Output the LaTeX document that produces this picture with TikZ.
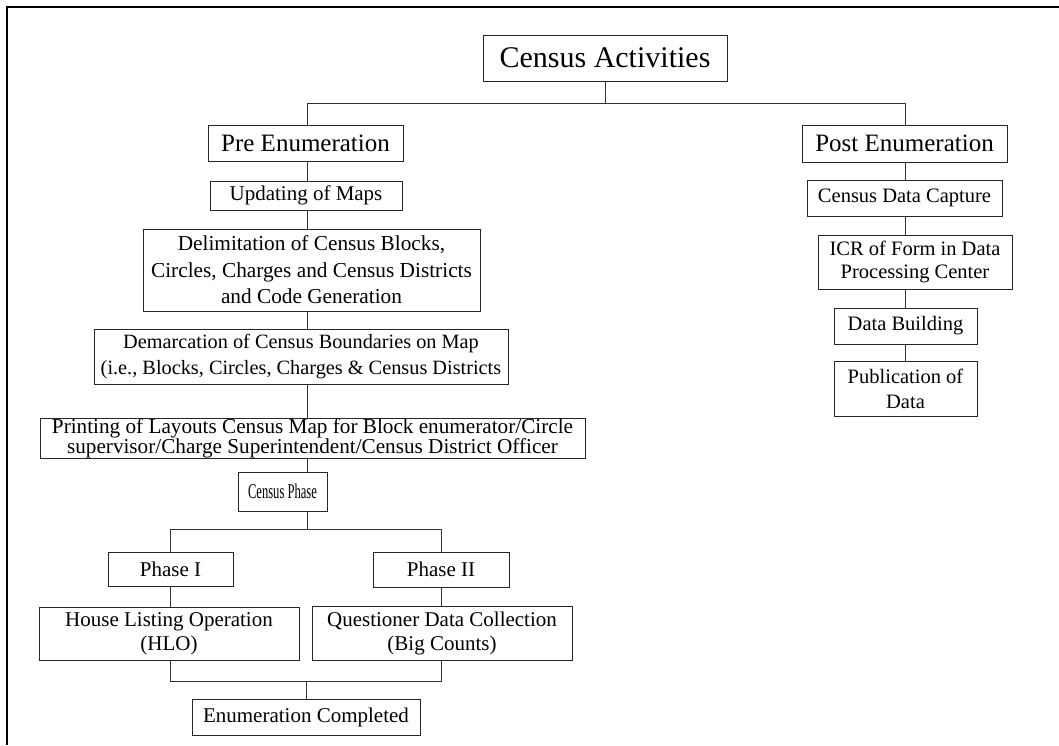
\documentclass[tikz,border=0pt]{standalone}
\usepackage{fontspec}
\usepackage{graphicx}
\setmainfont{Liberation Serif}
\begin{document}
\begin{tikzpicture}[x=1pt,y=-1pt,
  box/.style={draw=black!85, line width=0.8pt, inner sep=0pt, align=center,
    font=\fontsize{21}{26}\selectfont},
  tight/.style={font=\fontsize{21}{24}\selectfont},
  headbox/.style={box, font=\fontsize{25}{30}\selectfont},
  link/.style={draw=black!80, line width=0.8pt}]
\useasboundingbox (0,0) rectangle (1059,745);
\fill[white] (0,0) rectangle (1059,745);

% outer frame (left and top edges)
\draw[line width=2pt] (7,745) -- (7,7) -- (1059,7);

% title
\node[box, font=\fontsize{30}{36}\selectfont, minimum width=244pt, minimum height=46pt] (title) at (605,58) {Census Activities};

% the two branches
\node[headbox, minimum width=195pt, minimum height=36pt] (pre) at (305.5,143) {Pre Enumeration};
\node[headbox, minimum width=205pt, minimum height=37pt] (post) at (904.5,143.5) {Post Enumeration};

% pre-enumeration chain
\node[box, minimum width=192pt, minimum height=29pt] (upd) at (306,195.5) {Updating of Maps};
\node[box, font=\fontsize{21.3}{26.5}\selectfont, minimum width=337pt, minimum height=82pt] (delim) at (311.5,270)
  {Delimitation of Census Blocks,\\Circles, Charges and Census Districts\\and Code Generation};
\node[box, font=\fontsize{20.3}{26.5}\selectfont, minimum width=414pt, minimum height=55pt] (dem) at (301,356.5)
  {Demarcation of Census Boundaries on Map\\(i.e., Blocks, Circles, Charges \& Census Districts};
\node[box, font=\fontsize{21.2}{20.5}\selectfont, minimum width=545pt, minimum height=37pt] (print) at (312.5,438.5)
  {Printing of Layouts Census Map for Block enumerator/Circle\\supervisor/Charge Superintendent/Census District Officer};
\node[box, minimum width=89pt, minimum height=39pt] (cphase) at (282.5,491.5) {\scalebox{0.6}[1]{Census Phase}};
\node[box, minimum width=125pt, minimum height=34pt] (ph1) at (170.5,569) {Phase I};
\node[box, minimum width=136pt, minimum height=35pt] (ph2) at (441,569.5) {Phase II};
\node[box, tight, minimum width=260pt, minimum height=53pt] (hlo) at (169,633.5) {House Listing Operation\\(HLO)};
\node[box, tight, minimum width=260pt, minimum height=54pt] (qdc) at (442,633) {Questioner Data Collection\\(Big Counts)};
\node[box, minimum width=228pt, minimum height=36pt] (ec) at (306,717) {Enumeration Completed};

% post-enumeration chain
\node[box, font=\fontsize{20.5}{26}\selectfont, minimum width=195pt, minimum height=36pt] (cdc) at (904.5,198) {Census Data Capture};
\node[box, font=\fontsize{20.5}{23.5}\selectfont, minimum width=194pt, minimum height=54pt] (icr) at (915,262) {ICR of Form in Data\\Processing Center};
\node[box, font=\fontsize{20.5}{26}\selectfont, minimum width=143pt, minimum height=36pt] (db) at (905.5,326) {Data Building};
\node[box, font=\fontsize{20.5}{25}\selectfont, minimum width=143pt, minimum height=55pt] (pub) at (905.5,388.5) {Publication of\\Data};

% trunk lines and junctions
\coordinate (lx) at (307,0);
\coordinate (rx) at (905,0);
\coordinate (busA) at (605,103);
\coordinate (busB) at (307,529);
\coordinate (busC) at (306,681);

\draw[link] (title.south) -- (busA);
\draw[link] (pre.north -| lx) -- (lx |- busA) -- (rx |- busA) -- (post.north -| rx);

\draw[link] (pre.south -| lx) -- (upd.north -| lx);
\draw[link] (upd.south -| lx) -- (delim.north -| lx);
\draw[link] (delim.south -| lx) -- (dem.north -| lx);
\draw[link] (dem.south -| lx) -- (print.north -| lx);
\draw[link] (print.south -| lx) -- (cphase.north -| lx);
\draw[link] (cphase.south -| lx) -- (busB);
\draw[link] (ph1.north) -- (ph1.north |- busB) -- (ph2.north |- busB) -- (ph2.north);
\draw[link] (ph1.south) -- (ph1.south |- hlo.north);
\draw[link] (ph2.south) -- (ph2.south |- qdc.north);
\draw[link] (hlo.south -| ph1) -- (ph1 |- busC) -- (ph2 |- busC) -- (qdc.south -| ph2);
\draw[link] (busC) -- (ec.north -| busC);

\draw[link] (post.south -| rx) -- (cdc.north -| rx);
\draw[link] (cdc.south -| rx) -- (icr.north -| rx);
\draw[link] (icr.south -| rx) -- (db.north -| rx);
\draw[link] (db.south -| rx) -- (pub.north -| rx);
\end{tikzpicture}
\end{document}
